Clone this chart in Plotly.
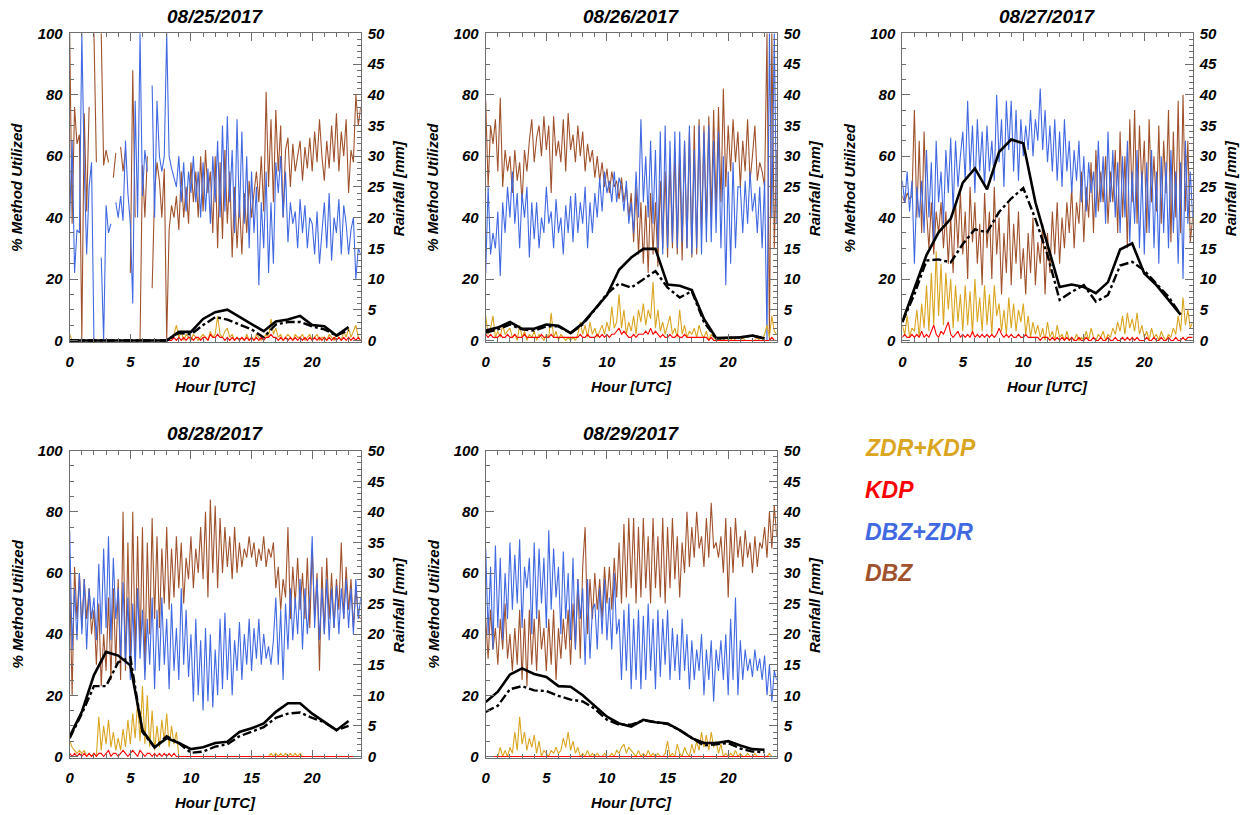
import plotly.graph_objects as go

W, H = 1247, 815
OFF = 0  # page body margin is removed by the post script below
FONT = "Liberation Sans, Arial, Helvetica, sans-serif"

# time grid of the radar-method series (every 0.2 h) and hourly rainfall grid
HOURS_FINE = [round(i * 0.2, 1) for i in range(121)]
HOURS_RAIN = list(range(24))

DATES = ["08/25/2017", "08/26/2017", "08/27/2017", "08/28/2017", "08/29/2017"]
METHODS = ["DBZ", "DBZ+ZDR", "ZDR+KDP", "KDP"]
LEGEND_ORDER = ["ZDR+KDP", "KDP", "DBZ+ZDR", "DBZ"]
COLORS = {"DBZ": "#A0522D", "DBZ+ZDR": "#4169E1", "ZDR+KDP": "#DAA520", "KDP": "#FF0000"}

# ---------------- 08/25/2017 ----------------
DBZ_0825 = [
    100, 38, 76, 64, 67,
    0, 74, 42, 76, None,
    100, 58, None, 100, 57,
    62, 58, None, 53, 61,
    None, 63, 55, 62, None,
    22, 88, 40, None, 0,
    57, 40, 60, None, 17,
    48, 58, 52, 40, 56,
    0, 36, 44, 40, 47,
    36, 55, 40, 50, 38,
    58, 45, 55, 40, 60,
    42, 62, 48, 55, 35,
    60, 30, 58, 33, 62,
    38, 55, 27, 50, 30,
    45, 28, 48, 35, 52,
    40, 48, 55, 45, 60,
    42, 81, 50, 72, 45,
    75, 55, 70, 40, 62,
    66, 50, 64, 55, 60,
    65, 52, 63, 56, 66,
    55, 68, 58, 72, 60,
    52, 65, 56, 70, 58,
    74, 55, 68, 60, 72,
    48, 62, 58, 80, 70,
    76]
DBZZDR_0825 = [
    40, 65, 22, 36, 35,
    100, 56, 28, 50, 58,
    0, None, None, 27, 0,
    44, 35, 38, None, 45,
    40, 47, 39, 65, 48,
    38, 12, 78, 40, 100,
    47, 62, 55, None, 83,
    40, 78, 60, 55, 60,
    100, 60, 56, 53, 50,
    60, 45, 58, 42, 55,
    48, 60, 45, 55, 40,
    58, 42, 56, 38, 60,
    45, 65, 40, 70, 42,
    73, 45, 62, 35, 72,
    40, 68, 38, 60, 30,
    55, 35, 50, 18, 45,
    30, 55, 22, 45, 25,
    58, 48, 60, 40, 55,
    32, 45, 38, 42, 30,
    46, 35, 44, 30, 40,
    38, 28, 42, 25, 36,
    45, 30, 48, 26, 40,
    35, 46, 28, 44, 38,
    28, 36, 40, 20, 30,
    28]
ZDRKDP_0825 = [
    2, 0, 0, 0, 0,
    0, 0, 0, 0, 0,
    0, 0, 0, 0, 0,
    0, 0, 0, 0, 0,
    0, 0, 0, 0, 0,
    0, 0, 0, 0, 0,
    0, 0, 0, 0, 0,
    0, 0, 0, 0, 0,
    0, 0, 1, 2, 5,
    1, 3, 0, 2, 1,
    0, 2, 1, 0, 1,
    2, 1, 0, 3, 1,
    2, 8, 2, 1, 3,
    4, 1, 2, 0, 1,
    0, 1, 0, 2, 0,
    1, 0, 2, 1, 0,
    1, 2, 1, 7, 2,
    4, 1, 2, 0, 1,
    2, 1, 0, 2, 1,
    1, 2, 0, 1, 2,
    0, 1, 2, 0, 1,
    1, 0, 2, 1, 0,
    2, 1, 0, 3, 1,
    4, 1, 3, 5, 1,
    0]
KDP_0825 = [
    0, 0, 0, 0, 0,
    0, 0, 0, 0, 0,
    0, 0, 0, 0, 0,
    0, 0, 0, 0, 0,
    0, 0, 0, 0, 0,
    0, 0, 0, 0, 0,
    0, 0, 0, 0, 0,
    0, 0, 0, 0, 0,
    0, 0, 0, 1, 0,
    1, 0, 1, 0, 1,
    1, 0, 1, 1, 0,
    1, 1, 0, 2, 1,
    1, 2, 1, 1, 0,
    1, 0, 1, 0, 1,
    0, 1, 0, 1, 0,
    1, 0, 1, 0, 1,
    0, 1, 1, 2, 1,
    1, 0, 1, 0, 1,
    0, 1, 0, 1, 0,
    1, 0, 1, 0, 1,
    0, 1, 0, 1, 0,
    1, 0, 1, 0, 1,
    0, 1, 0, 1, 0,
    1, 0, 1, 0, 1,
    0]
RAIN_0825 = [0, 0, 0, 0, 0, 0, 0, 0, 0, 1.4, 1.4, 3.5, 4.6, 5.0, 3.8, 2.7,
             1.5, 3.1, 3.4, 4.0, 2.5, 2.3, 0.8, 2.2]
RAIN2_0825 = [0, 0, 0, 0, 0, 0, 0, 0, 0, 1.2, 1.0, 2.5, 3.8, 3.4, 2.6, 1.8,
              0.5, 2.6, 3.0, 3.0, 2.3, 1.8, 0.8, 1.7]

# ---------------- 08/26/2017 ----------------
DBZ_0826 = [
    78, 50, 70, 64, 72,
    55, 79, 50, 62, 55,
    60, 48, 62, 52, 58,
    45, 62, 55, 65, 72,
    58, 66, 70, 60, 73,
    62, 70, 48, 73, 60,
    65, 58, 72, 55, 74,
    62, 67, 58, 70, 60,
    68, 55, 64, 58, 62,
    53, 60, 52, 58, 50,
    56, 48, 55, 50, 52,
    46, 53, 45, 50, 40,
    48, 32, 50, 28, 45,
    25, 44, 22, 48, 28,
    45, 24, 52, 30, 55,
    27, 58, 30, 62, 28,
    60, 26, 65, 30, 68,
    27, 70, 28, 72, 35,
    70, 38, 73, 40, 75,
    42, 76, 45, 82, 50,
    70, 55, 72, 58, 68,
    50, 65, 55, 72, 52,
    60, 70, 52, 58, 55,
    50, 100, 0, 100, 30,
    62]
DBZZDR_0826 = [
    22, 50, 28, 35, 30,
    42, 21, 45, 35, 50,
    40, 55, 38, 48, 30,
    48, 40, 50, 27, 45,
    33, 45, 30, 40, 35,
    50, 38, 42, 30, 46,
    35, 40, 28, 44, 35,
    47, 32, 48, 35, 45,
    38, 50, 30, 45, 35,
    48, 40, 53, 42, 55,
    48, 52, 45, 55, 45,
    53, 50, 42, 52, 38,
    45, 35, 55, 40, 72,
    45, 60, 40, 65, 38,
    62, 30, 68, 28, 70,
    30, 65, 32, 68, 30,
    68, 32, 65, 30, 70,
    28, 62, 30, 70, 28,
    68, 32, 70, 32, 65,
    35, 68, 30, 60, 18,
    55, 25, 58, 30, 50,
    50, 35, 52, 38, 55,
    42, 48, 35, 50, 30,
    52, 0, 100, 40, 100,
    38]
ZDRKDP_0826 = [
    8, 2, 4, 8, 1,
    3, 1, 5, 2, 3,
    4, 1, 2, 0, 5,
    1, 3, 0, 2, 1,
    3, 0, 2, 1, 0,
    2, 1, 9, 1, 3,
    0, 2, 1, 0, 1,
    0, 1, 0, 2, 6,
    2, 5, 1, 6, 2,
    4, 1, 3, 5, 2,
    6, 3, 11, 4, 6,
    15, 4, 10, 2, 6,
    3, 8, 2, 10, 6,
    12, 5, 10, 7, 19,
    4, 10, 3, 6, 2,
    5, 8, 2, 4, 1,
    10, 2, 5, 1, 3,
    2, 4, 1, 5, 2,
    1, 3, 0, 2, 1,
    0, 1, 0, 0, 1,
    0, 0, 1, 0, 0,
    0, 1, 0, 0, 0,
    0, 0, 1, 0, 0,
    2, 5, 1, 8, 3,
    2]
KDP_0826 = [
    2, 1, 2, 1, 1,
    1, 2, 1, 1, 2,
    1, 1, 2, 1, 1,
    1, 2, 1, 1, 1,
    1, 1, 1, 2, 1,
    1, 1, 2, 1, 1,
    1, 1, 1, 1, 1,
    1, 1, 1, 1, 2,
    1, 1, 2, 1, 1,
    1, 2, 1, 2, 1,
    2, 1, 2, 2, 3,
    4, 2, 3, 2, 1,
    1, 2, 1, 2, 2,
    2, 3, 2, 4, 2,
    3, 2, 1, 2, 1,
    1, 2, 1, 1, 2,
    1, 1, 2, 1, 1,
    1, 1, 1, 1, 1,
    1, 1, 0, 1, 0,
    0, 0, 0, 0, 0,
    0, 0, 0, 0, 0,
    0, 0, 0, 0, 0,
    0, 0, 0, 0, 0,
    0, 0, 0, 1, 0,
    0]
RAIN_0826 = [1.6, 2.1, 3.0, 1.9, 1.9, 2.6, 2.4, 1.2, 2.8, 5.1, 7.4, 11.5, 13.5,
             14.9, 14.9, 9.1, 8.9, 8.2, 3.5, 0.4, 0.4, 0.5, 0.8, 0.3]
RAIN2_0826 = [1.3, 1.8, 2.6, 1.8, 1.6, 2.3, 2.3, 1.2, 2.6, 5.0, 7.6, 9.3, 8.6,
              10.0, 11.3, 8.6, 7.0, 8.0, 3.0, 0.3, 0.4, 0.5, 0.8, 0.3]

# ---------------- 08/27/2017 ----------------
DBZ_0827 = [
    47, 45, 48, 46, 47,
    75, 40, 65, 35, 68,
    42, 30, 45, 28, 42,
    35, 45, 30, 42, 25,
    40, 22, 45, 30, 48,
    28, 42, 20, 50, 32,
    45, 25, 38, 18, 48,
    30, 42, 20, 50, 28,
    40, 15, 35, 22, 45,
    18, 38, 25, 42, 20,
    30, 15, 35, 22, 40,
    18, 32, 25, 38, 15,
    35, 22, 42, 28, 45,
    25, 40, 30, 45, 35,
    50, 30, 45, 38, 55,
    32, 50, 40, 58, 35,
    62, 42, 55, 45, 60,
    38, 55, 45, 62, 35,
    68, 40, 60, 30, 72,
    45, 75, 38, 70, 50,
    65, 35, 72, 45, 60,
    42, 70, 38, 65, 48,
    75, 32, 68, 40, 78,
    35, 80, 42, 65, 32,
    40]
DBZZDR_0827 = [
    52, 45, 55, 42, 52,
    25, 50, 40, 52, 35,
    62, 40, 58, 32, 65,
    45, 55, 38, 62, 48,
    66, 42, 65, 50, 60,
    68, 52, 78, 55, 70,
    48, 72, 55, 68, 50,
    70, 55, 65, 52, 80,
    58, 72, 50, 78, 62,
    78, 55, 75, 52, 72,
    60, 70, 62, 75, 60,
    72, 65, 82, 62, 75,
    58, 70, 55, 72, 52,
    68, 50, 72, 55, 65,
    48, 62, 52, 65, 45,
    60, 42, 58, 48, 55,
    40, 65, 45, 60, 38,
    68, 45, 62, 40, 58,
    35, 60, 40, 65, 32,
    55, 38, 62, 30, 55,
    28, 58, 35, 62, 30,
    55, 25, 60, 35, 58,
    30, 62, 35, 55, 25,
    58, 20, 65, 38, 55,
    40]
ZDRKDP_0827 = [
    5, 2, 8, 1, 4,
    3, 10, 1, 12, 4,
    18, 3, 22, 5, 29,
    8, 25, 5, 22, 10,
    20, 4, 18, 6, 15,
    3, 18, 5, 16, 2,
    20, 6, 14, 3, 18,
    5, 15, 2, 18, 8,
    12, 3, 10, 2, 14,
    4, 12, 3, 10, 6,
    12, 2, 8, 1, 6,
    2, 5, 1, 4, 0,
    6, 1, 3, 0, 5,
    1, 2, 0, 3, 0,
    1, 0, 2, 0, 1,
    0, 3, 0, 4, 1,
    0, 2, 1, 3, 0,
    2, 1, 4, 2, 6,
    3, 8, 2, 9, 4,
    7, 3, 9, 2, 5,
    1, 3, 0, 4, 1,
    2, 0, 3, 1, 0,
    2, 1, 4, 2, 8,
    3, 14, 5, 10, 4,
    6]
KDP_0827 = [
    1, 2, 1, 1, 2,
    1, 2, 1, 3, 1,
    2, 1, 3, 5, 2,
    1, 3, 2, 4, 6,
    2, 1, 2, 3, 1,
    2, 1, 2, 1, 3,
    1, 2, 1, 2, 1,
    2, 1, 2, 1, 2,
    4, 2, 1, 2, 1,
    2, 1, 1, 2, 1,
    1, 2, 1, 1, 1,
    1, 1, 0, 1, 1,
    1, 0, 1, 0, 1,
    0, 1, 0, 1, 0,
    1, 0, 0, 1, 0,
    0, 1, 0, 0, 1,
    0, 0, 1, 0, 0,
    1, 0, 0, 1, 0,
    0, 1, 0, 1, 0,
    1, 0, 1, 0, 0,
    0, 1, 0, 0, 1,
    0, 0, 1, 0, 0,
    1, 0, 0, 1, 0,
    0, 1, 0, 1, 1,
    1]
RAIN_0827 = [3.0, 8.3, 13.9, 17.6, 19.8, 25.7, 28.0, 24.6, 30.7, 32.7, 32.1, 22.5,
             15.5, 8.7, 9.1, 8.7, 7.7, 9.5, 14.8, 15.8, 10.9, 9.0, 6.6, 4.2]
RAIN2_0827 = [3.0, 7.5, 13.0, 13.2, 12.7, 15.7, 18.1, 17.6, 20.9, 23.1, 24.8, 19.8,
              13.9, 6.6, 7.9, 9.0, 6.3, 7.4, 12.2, 12.8, 11.4, 9.3, 7.1, 4.2]

# ---------------- 08/28/2017 ----------------
DBZ_0828 = [
    58, 20, 62, 45, 60,
    42, 58, 45, 55, 40,
    48, 30, 50, 23, 40,
    28, 52, 25, 55, 30,
    58, 25, 80, 28, 70,
    30, 80, 32, 72, 35,
    75, 28, 70, 40, 78,
    45, 72, 42, 68, 50,
    75, 48, 68, 52, 72,
    55, 70, 50, 65, 58,
    72, 55, 68, 60, 75,
    58, 80, 52, 84, 60,
    82, 55, 78, 60, 75,
    62, 72, 58, 75, 60,
    70, 62, 68, 65, 72,
    65, 70, 62, 68, 64,
    72, 62, 68, 65, 70,
    55, 62, 48, 58, 52,
    75, 45, 62, 50, 65,
    48, 60, 45, 65, 42,
    68, 45, 60, 28, 62,
    40, 65, 45, 60, 42,
    58, 48, 70, 45, 62,
    48, 58, 42, 55, 46,
    45]
DBZZDR_0828 = [
    74, 35, 55, 38, 60,
    40, 58, 35, 55, 45,
    52, 38, 63, 40, 68,
    42, 72, 38, 65, 45,
    55, 32, 57, 30, 52,
    25, 50, 28, 55, 32,
    48, 25, 45, 30, 52,
    22, 48, 28, 52, 30,
    45, 22, 50, 28, 42,
    25, 55, 30, 48, 26,
    40, 18, 45, 20, 38,
    15, 42, 18, 40, 16,
    35, 20, 45, 22, 47,
    25, 42, 20, 38, 28,
    44, 25, 40, 30, 45,
    28, 42, 32, 45, 30,
    40, 32, 36, 30, 38,
    52, 30, 48, 25, 50,
    35, 55, 38, 52, 40,
    58, 35, 55, 40, 52,
    72, 42, 58, 38, 55,
    40, 58, 38, 55, 42,
    56, 40, 55, 45, 58,
    42, 55, 40, 58, 45,
    52]
ZDRKDP_0828 = [
    5, 3, 2, 1, 2,
    1, 2, 0, 1, 0,
    1, 0, 13, 2, 10,
    4, 12, 3, 8, 2,
    6, 2, 9, 3, 12,
    4, 14, 6, 18, 5,
    23, 4, 20, 3, 15,
    2, 10, 3, 12, 5,
    14, 3, 10, 4, 8,
    0, 0, 0, 0, 0,
    0, 0, 0, 0, 0,
    0, 0, 0, 0, 0,
    0, 0, 0, 0, 0,
    0, 0, 0, 0, 0,
    0, 0, 0, 0, 0,
    0, 0, 0, 0, 0,
    0, 0, 0, 1, 0,
    1, 0, 1, 0, 1,
    0, 1, 0, 1, 0,
    1, 0, 0, 0, 0,
    0, 0, 0, 0, 0,
    0, 0, 0, 0, 0,
    0, 0, 0, 0, 0,
    0, 0, 0, 0, 0,
    0]
KDP_0828 = [
    1, 0, 1, 0, 1,
    0, 1, 0, 1, 0,
    1, 0, 1, 1, 0,
    1, 2, 0, 1, 1,
    0, 1, 2, 1, 0,
    1, 2, 1, 0, 2,
    1, 0, 1, 1, 0,
    1, 0, 1, 0, 1,
    0, 1, 0, 1, 0,
    0, 0, 0, 0, 0,
    0, 0, 0, 0, 0,
    0, 0, 0, 0, 0,
    0, 0, 0, 0, 0,
    0, 0, 0, 0, 0,
    0, 0, 0, 0, 0,
    0, 0, 0, 0, 0,
    0, 0, 0, 0, 0,
    0, 0, 0, 0, 0,
    0, 0, 0, 0, 0,
    0, 0, 0, 0, 0,
    0, 0, 0, 0, 0,
    0, 0, 0, 0, 0,
    0, 0, 0, 0, 0,
    0, 0, 0, 0, 0,
    0]
RAIN_0828 = [3.25, 7.3, 13.3, 17.1, 16.5, 14.9, 4.3, 1.5, 3.0, 2.2, 1.2, 1.5,
             2.2, 2.4, 4.0, 4.6, 5.4, 7.3, 8.7, 8.7, 7.0, 5.6, 4.3, 5.8]
RAIN2_0828 = [3.0, 7.0, 11.5, 11.5, 15.4, 16.2, 4.0, 1.5, 3.3, 2.2, 0.6, 0.8,
              1.6, 2.0, 3.3, 4.0, 4.8, 6.3, 7.0, 7.2, 6.3, 5.6, 4.3, 5.0]

# ---------------- 08/29/2017 ----------------
DBZ_0829 = [
    45, 32, 48, 35, 42,
    30, 45, 35, 50, 32,
    40, 28, 42, 30, 48,
    25, 45, 23, 48, 30,
    45, 28, 48, 35, 42,
    28, 45, 30, 48, 25,
    42, 32, 45, 35, 48,
    30, 50, 35, 58, 32,
    62, 75, 40, 58, 45,
    60, 48, 58, 45, 62,
    50, 62, 48, 65, 52,
    70, 50, 76, 52, 78,
    55, 78, 50, 75, 52,
    78, 55, 72, 50, 78,
    55, 72, 52, 78, 50,
    75, 55, 78, 58, 72,
    52, 70, 60, 80, 62,
    75, 65, 80, 68, 72,
    62, 78, 65, 83, 68,
    70, 65, 72, 60, 78,
    52, 75, 60, 78, 65,
    72, 62, 74, 65, 70,
    60, 72, 62, 70, 68,
    75, 65, 80, 68, 82,
    72]
DBZZDR_0829 = [
    68, 40, 62, 35, 69,
    42, 65, 38, 60, 45,
    70, 48, 66, 50, 71,
    42, 62, 55, 65, 40,
    70, 45, 68, 50, 65,
    42, 74, 48, 68, 52,
    62, 40, 67, 45, 60,
    38, 65, 35, 58, 45,
    55, 30, 58, 32, 48,
    50, 35, 55, 40, 58,
    38, 52, 35, 60, 40,
    45, 25, 48, 28, 50,
    22, 45, 25, 48, 22,
    46, 25, 50, 28, 45,
    22, 48, 26, 45, 30,
    48, 25, 42, 28, 40,
    25, 45, 28, 40, 22,
    38, 25, 35, 28, 40,
    20, 35, 25, 38, 18,
    35, 28, 38, 25, 40,
    20, 45, 25, 52, 20,
    38, 25, 35, 28, 32,
    26, 35, 28, 32, 25,
    33, 20, 30, 18, 28,
    25]
ZDRKDP_0829 = [
    0, 0, 0, 0, 0,
    0, 3, 0, 2, 0,
    3, 1, 8, 2, 13,
    4, 8, 2, 6, 3,
    7, 1, 5, 0, 2,
    1, 0, 2, 1, 3,
    1, 2, 6, 3, 8,
    2, 5, 1, 3, 0,
    1, 0, 2, 0, 1,
    0, 1, 0, 0, 1,
    0, 0, 1, 0, 2,
    1, 3, 4, 1, 3,
    2, 1, 0, 2, 0,
    1, 0, 2, 0, 1,
    0, 1, 0, 0, 1,
    5, 0, 1, 0, 4,
    1, 0, 3, 1, 0,
    4, 1, 5, 2, 8,
    3, 7, 2, 8, 3,
    5, 1, 4, 0, 1,
    0, 1, 0, 2, 0,
    1, 0, 0, 1, 0,
    0, 1, 0, 0, 0,
    0, 0, 1, 0, 0,
    0]
KDP_0829 = [
    0, 0, 0, 0, 0,
    0, 0, 0, 0, 0,
    0, 0, 0, 0, 0,
    0, 0, 0, 0, 0,
    0, 0, 0, 0, 0,
    0, 0, 0, 0, 0,
    0, 0, 0, 0, 0,
    0, 0, 0, 0, 0,
    0, 0, 0, 0, 0,
    0, 0, 0, 0, 0,
    0, 0, 0, 0, 0,
    0, 0, 0, 0, 0,
    0, 0, 0, 0, 0,
    0, 0, 0, 0, 0,
    0, 0, 0, 0, 0,
    0, 0, 0, 0, 0,
    0, 0, 0, 0, 0,
    0, 0, 0, 0, 0,
    0, 0, 0, 0, 0,
    0, 0, 0, 0, 0,
    0, 0, 0, 0, 0,
    0, 0, 0, 0, 0,
    0, 0, 0, 0, 0,
    0, 0, 0, 0, 0,
    0]
RAIN_0829 = [8.9, 10.6, 13.4, 14.4, 13.5, 13.0, 11.5, 11.4, 10.0, 8.2, 6.5, 5.4,
             4.9, 6.0, 5.6, 5.4, 4.3, 3.0, 2.2, 2.2, 2.5, 1.8, 1.2, 1.1]
RAIN2_0829 = [7.3, 8.3, 11.0, 11.5, 10.8, 10.7, 9.9, 9.3, 9.0, 7.8, 6.0, 5.2,
              5.2, 5.9, 5.6, 5.3, 4.3, 3.0, 1.8, 2.0, 2.2, 1.3, 0.8, 0.7]

PANELS = [
    {"DBZ": DBZ_0825, "DBZ+ZDR": DBZZDR_0825, "ZDR+KDP": ZDRKDP_0825, "KDP": KDP_0825,
     "rain": RAIN_0825, "rain2": RAIN2_0825},
    {"DBZ": DBZ_0826, "DBZ+ZDR": DBZZDR_0826, "ZDR+KDP": ZDRKDP_0826, "KDP": KDP_0826,
     "rain": RAIN_0826, "rain2": RAIN2_0826},
    {"DBZ": DBZ_0827, "DBZ+ZDR": DBZZDR_0827, "ZDR+KDP": ZDRKDP_0827, "KDP": KDP_0827,
     "rain": RAIN_0827, "rain2": RAIN2_0827},
    {"DBZ": DBZ_0828, "DBZ+ZDR": DBZZDR_0828, "ZDR+KDP": ZDRKDP_0828, "KDP": KDP_0828,
     "rain": RAIN_0828, "rain2": RAIN2_0828},
    {"DBZ": DBZ_0829, "DBZ+ZDR": DBZZDR_0829, "ZDR+KDP": ZDRKDP_0829, "KDP": KDP_0829,
     "rain": RAIN_0829, "rain2": RAIN2_0829},
]
for p in PANELS:
    for m in METHODS:
        assert len(p[m]) == len(HOURS_FINE), (m, len(p[m]))
    assert len(p["rain"]) == len(HOURS_RAIN) and len(p["rain2"]) == len(HOURS_RAIN)

# panel frames in screen pixels: left, right, top, bottom
FRAMES = [(69.7, 360.7, 33.3, 342.3), (485.7, 776.7, 33.3, 342.3),
          (902.3, 1192.7, 33.3, 342.3), (69.7, 360.7, 450.7, 758.3),
          (485.7, 776.7, 450.7, 758.3)]

AX = "#6e6e6e"


def px(xs):
    return (xs - OFF) / W


def py(ys):
    return 1 - (ys - OFF) / H


def bfont(size, color="black"):
    return dict(family=FONT, size=size, color=color, weight="bold", style="italic")


fig = go.Figure()
annotations = []

for k, (date, data, fr) in enumerate(zip(DATES, PANELS, FRAMES)):
    xs = "" if k == 0 else str(k + 1)
    yl = "" if k == 0 else str(2 * k + 1)
    yr = str(2 * k + 2)
    for m in METHODS:
        fig.add_trace(go.Scatter(
            x=HOURS_FINE, y=data[m], mode="lines", name=m,
            line=dict(color=COLORS[m], width=1.1),
            xaxis="x" + xs, yaxis="y" + yl, showlegend=False, hoverinfo="skip"))
    fig.add_trace(go.Scatter(
        x=HOURS_RAIN, y=data["rain"], mode="lines", name="Rainfall",
        line=dict(color="black", width=2.6),
        xaxis="x" + xs, yaxis="y" + yr, showlegend=False, hoverinfo="skip"))
    fig.add_trace(go.Scatter(
        x=HOURS_RAIN, y=data["rain2"], mode="lines", name="Rainfall (radar)",
        line=dict(color="black", width=2.4, dash="dashdot"),
        xaxis="x" + xs, yaxis="y" + yr, showlegend=False, hoverinfo="skip"))

    l, r, t, b = fr
    xdom = [px(l), px(r)]
    ydom = [py(b), py(t)]
    fig.update_layout(**{
        "xaxis" + xs: dict(
            domain=xdom, anchor="y" + yl, range=[0, 24], tick0=0, dtick=5,
            ticks="inside", ticklen=8, tickwidth=1, tickcolor=AX,
            minor=dict(dtick=1, ticks="inside", ticklen=4, tickcolor=AX),
            showline=True, linecolor=AX, linewidth=1, mirror="ticks",
            showgrid=False, zeroline=False, tickfont=bfont(15),
            ticklabelstandoff=6, automargin=False),
        "yaxis" + yl: dict(
            domain=ydom, anchor="x" + xs, range=[-0.6, 100], tick0=0, dtick=20,
            ticks="inside", ticklen=8, tickwidth=1, tickcolor=AX,
            minor=dict(dtick=5, ticks="inside", ticklen=4, tickcolor=AX),
            showline=True, linecolor=AX, linewidth=1,
            showgrid=False, zeroline=False, tickfont=bfont(15),
            ticklabelstandoff=3, automargin=False),
        "yaxis" + yr: dict(
            domain=ydom, anchor="x" + xs, overlaying="y" + yl, side="right",
            range=[-0.3, 50], tick0=0, dtick=5,
            ticks="inside", ticklen=8, tickwidth=1, tickcolor=AX,
            minor=dict(dtick=1, ticks="inside", ticklen=4, tickcolor=AX),
            showline=True, linecolor=AX, linewidth=1,
            showgrid=False, zeroline=False, tickfont=bfont(15),
            ticklabelstandoff=3, automargin=False),
    })

    cx = (l + r) / 2
    cy = (t + b) / 2
    annotations += [
        dict(text=date, x=px(cx), y=py(t - 16.8), font=bfont(19)),
        dict(text="Hour [UTC]", x=px(cx), y=py(b + 44.6), font=bfont(15)),
        dict(text="% Method Utilized", x=px(l - 52.7), y=py(cy),
             textangle=-90, font=bfont(15)),
        dict(text="Rainfall [mm]", x=px(r + 37.7), y=py(cy),
             textangle=-90, font=bfont(15)),
    ]

LEGEND_Y = [448.3, 490.0, 531.7, 573.3]
for name, ly in zip(LEGEND_ORDER, LEGEND_Y):
    annotations.append(dict(text=name, x=px(863.0), y=py(ly), xanchor="left",
                            font=bfont(23, COLORS[name])))

for a in annotations:
    a.setdefault("xanchor", "center")
    a.update(xref="paper", yref="paper", yanchor="middle", showarrow=False)

fig.update_layout(
    width=W, height=H, autosize=False,
    margin=dict(l=0, r=0, t=0, b=0, autoexpand=False),
    paper_bgcolor="white", plot_bgcolor="white",
    showlegend=False, annotations=annotations, hovermode=False,
)

fig.write_html("out.html",
               config={"displayModeBar": False, "staticPlot": True},
               post_script="document.body.style.margin='0';"
                           "document.body.style.overflow='hidden';")
